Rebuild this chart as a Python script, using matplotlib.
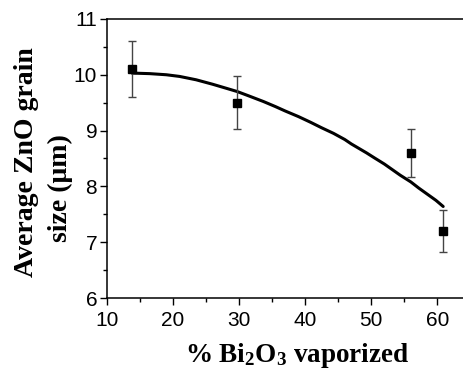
import matplotlib
matplotlib.use("Agg")
import matplotlib.pyplot as plt
from matplotlib.ticker import MultipleLocator

# measured points
vaporized = [13.8, 29.7, 56.0, 60.8]
grain_size = [10.1, 9.5, 8.6, 7.2]
grain_err = [0.5, 0.48, 0.43, 0.37]

# fitted curve
fit_x = [13.8, 16.5, 19.0, 21.0, 23.5, 26.0, 28.0, 29.7, 31.5, 33.7, 35.5, 37.0,
         39.0, 40.8, 42.5, 44.3, 46.0, 47.0, 49.3, 50.5, 52.0, 53.2, 54.4, 56.0,
         57.2, 58.5, 59.8, 60.9]
fit_y = [10.03, 10.02, 10.0, 9.97, 9.91, 9.83, 9.76, 9.70, 9.62, 9.52, 9.43, 9.35,
         9.25, 9.15, 9.05, 8.95, 8.84, 8.76, 8.60, 8.51, 8.40, 8.30, 8.20, 8.08,
         7.97, 7.86, 7.75, 7.64]

plt.rcParams["font.family"] = ["Liberation Sans", "DejaVu Sans"]
plt.rcParams["mathtext.default"] = "regular"

fig = plt.figure(figsize=(4.63, 3.79), dpi=100)
ax = fig.add_axes([0.231, 0.2137, 0.769, 0.7363])

ax.errorbar(vaporized, grain_size, yerr=grain_err, fmt="s", color="black",
            ms=6, ecolor="#444444", elinewidth=1.0, capsize=3, capthick=1.0, zorder=3)
ax.plot(fit_x, fit_y, color="black", lw=2.2, solid_capstyle="round",
        solid_joinstyle="round", zorder=2)

ax.set_xlim(10, 63.9)
ax.set_ylim(6, 11)
ax.xaxis.set_major_locator(MultipleLocator(10))
ax.xaxis.set_minor_locator(MultipleLocator(5))
ax.yaxis.set_major_locator(MultipleLocator(1))
ax.yaxis.set_minor_locator(MultipleLocator(0.5))
ax.tick_params(which="major", direction="out", length=5, width=1, labelsize=15, pad=2)
ax.tick_params(axis="x", which="major", pad=4)
ax.tick_params(which="minor", direction="out", length=3, width=1)
ax.spines["right"].set_visible(False)
for s in ["left", "bottom", "top"]:
    ax.spines[s].set_linewidth(1.1)

serif = ["Liberation Serif", "DejaVu Serif"]
fig.text(297 / 463, 1 - 356 / 379, "% Bi$_2$O$_3$ vaporized", family=serif,
         fontweight="bold", fontsize=19.5, ha="center", va="center")
fig.text(27 / 463, 1 - 162 / 379, "Average ZnO grain", family=serif,
         fontweight="bold", fontsize=20, ha="center", va="center", rotation=90)
fig.text(60 / 463, 1 - 188 / 379, "size (\u03bcm)", family=serif,
         fontweight="bold", fontsize=20, ha="center", va="center", rotation=90)

fig.savefig("out.png", dpi=100)
